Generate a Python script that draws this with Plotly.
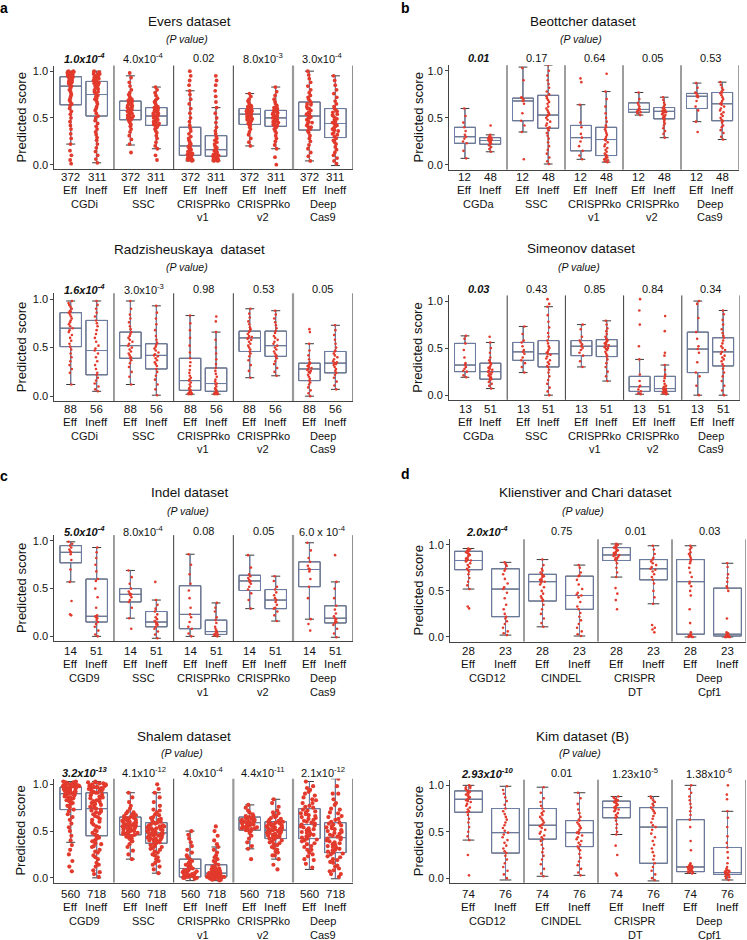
import plotly.graph_objects as go

W, H = 747, 940
RED = '#e23a2c'
BOXC = '#6f80a8'
CAPC = '#3a3a3a'
AXC = '#444444'
TXT = '#111111'
FONT = 'Liberation Sans, Arial, Helvetica, sans-serif'

# ---------------- Evers dataset (a) ----------------
evers_tools = ["CGDi", "SSC", "CRISPRko<br>v1", "CRISPRko<br>v2", "Deep<br>Cas9"]
evers_n = [372, 311]
evers_p = ["<b><i>1.0x10<sup>-4</sup></i></b>", "4.0x10<sup>-4</sup>", "0.02", "8.0x10<sup>-3</sup>", "3.0x10<sup>-4</sup>"]
evers_lo = [.22, .02, .21, .17, .04, .04, .20, .17, .04, -.01]
evers_q1 = [.64, .52, .48, .42, .10, .09, .43, .41, .37, .29]
evers_med = [.84, .75, .58, .52, .20, .16, .54, .50, .52, .44]
evers_q3 = [.94, .89, .68, .61, .40, .31, .60, .58, .67, .60]
evers_hi = [1.0, 1.0, .95, .83, .79, .61, .76, .83, 1.0, .95]
evers_pts = [
    [1.0, .99, .99, .98, .98, .97, .97, .96, .96, .95, .95, .94, .93, .93, .92, .91, .9, .9, .89, .88, .87, .86, .85, .84, .83, .82, .8, .79, .77, .75, .73, .71, .69, .67, .65, .63, .6, .57, .54, .5, .46, .42, .38, .33, .28, .22, .15, .1, .05, .01, 1.0, .99, .98, .97, .96, .95, .94, .92],
    [1.0, .99, .98, .97, .96, .95, .94, .93, .92, .91, .9, .89, .88, .87, .86, .85, .83, .82, .8, .78, .77, .75, .73, .71, .69, .67, .65, .62, .6, .58, .55, .52, .5, .47, .44, .41, .38, .35, .32, .29, .26, .22, .18, .14, .1, .06, .02, .99, .97, .95, .93, .9, .87, .84, .81, .78, .74, .7],
    [.98, .93, .88, .84, .8, .77, .75, .73, .71, .7, .69, .68, .67, .66, .65, .64, .63, .62, .61, .6, .59, .58, .58, .57, .56, .55, .54, .53, .52, .51, .5, .49, .48, .47, .45, .43, .41, .38, .35, .31, .27, .22, .13, .66, .63, .6, .57, .55, .52, .5],
    [.83, .8, .77, .74, .71, .69, .67, .65, .63, .62, .61, .6, .59, .58, .57, .56, .55, .54, .53, .52, .52, .51, .5, .49, .48, .47, .46, .45, .44, .43, .42, .41, .4, .38, .36, .34, .31, .28, .24, .2, .17, .1, .05, .58, .55, .53, .5, .48, .46, .44],
    [1.0, .95, .9, .85, .79, .75, .7, .65, .6, .55, .5, .46, .42, .39, .36, .33, .3, .28, .26, .24, .22, .21, .2, .19, .18, .17, .16, .15, .14, .13, .12, .11, .1, .09, .08, .07, .07, .06, .06, .05, .05, .04, .15, .12, .1, .08, .06],
    [.95, .9, .85, .79, .73, .67, .61, .55, .5, .45, .4, .36, .33, .3, .28, .26, .24, .22, .2, .19, .18, .17, .16, .15, .14, .13, .12, .11, .1, .1, .09, .09, .08, .08, .07, .07, .06, .06, .05, .05, .04, .04, .14, .11, .09, .07, .05],
    [.76, .73, .7, .68, .66, .64, .63, .62, .61, .6, .6, .59, .58, .58, .57, .56, .56, .55, .54, .54, .53, .52, .52, .51, .5, .49, .48, .47, .46, .45, .44, .43, .42, .4, .38, .35, .32, .28, .24, .2, .62, .59, .57, .55, .53, .51, .49],
    [.83, .78, .74, .7, .67, .65, .63, .61, .6, .59, .58, .57, .56, .55, .54, .53, .52, .51, .5, .5, .49, .48, .47, .46, .45, .44, .43, .42, .41, .4, .38, .36, .34, .31, .28, .25, .21, .17, .08, 0.0, .6, .57, .55, .52, .5, .47, .45],
    [1.0, .96, .92, .88, .84, .8, .77, .74, .72, .7, .68, .66, .64, .62, .6, .58, .56, .54, .53, .52, .51, .5, .48, .46, .44, .42, .4, .38, .36, .34, .31, .28, .25, .21, .17, .13, .09, .04, .65, .6, .55, .5, .45, .4],
    [.95, .9, .85, .8, .76, .72, .68, .65, .62, .6, .58, .56, .54, .52, .5, .48, .46, .44, .43, .42, .4, .38, .36, .34, .32, .3, .28, .26, .24, .22, .19, .16, .13, .1, .07, .04, .01, .57, .53, .49, .45, .41, .37, .33],
]

# ---------------- Beottcher dataset (b) ----------------
beot_tools = ["CGDa", "SSC", "CRISPRko<br>v1", "CRISPRko<br>v2", "Deep<br>Cas9"]
beot_n = [12, 48]
beot_p = ["<b><i>0.01</i></b>", "0.17", "0.64", "0.05", "0.53"]
beot_lo = [.07, .14, .35, .01, .06, .03, .53, .29, .46, .27]
beot_q1 = [.23, .22, .47, .39, .15, .10, .56, .49, .60, .47]
beot_med = [.30, .26, .68, .53, .29, .27, .59, .57, .73, .65]
beot_q3 = [.40, .29, .71, .74, .42, .40, .66, .61, .76, .77]
beot_hi = [.60, .32, 1.04, 1.06, .64, .78, .77, .72, .87, .88]
beot_pts = [
    [.60, .52, .45, .40, .36, .32, .30, .28, .25, .23, .15, .07],
    [.42, .32, .31, .3, .29, .29, .28, .28, .27, .27, .26, .26, .25, .25, .24, .23, .22, .21, .19, .17, .14],
    [1.03, .9, .72, .71, .69, .68, .65, .55, .47, .42, .35, .06],
    [1.06, 1.0, .95, .9, .86, .82, .78, .75, .73, .71, .69, .67, .65, .62, .6, .58, .56, .54, .53, .52, .5, .48, .46, .44, .42, .4, .39, .37, .34, .31, .28, .24, .2, .16, .12, .08, .04, .01],
    [.92, .88, .64, .45, .4, .33, .29, .25, .2, .15, .1, .06],
    [.97, .78, .7, .62, .55, .5, .46, .42, .4, .38, .36, .34, .32, .3, .28, .27, .26, .24, .22, .2, .18, .16, .14, .12, .11, .1, .09, .08, .07, .06, .05, .04, .03],
    [.77, .7, .66, .64, .62, .6, .59, .58, .57, .56, .55, .53],
    [.72, .69, .66, .64, .62, .61, .6, .6, .59, .58, .58, .57, .57, .56, .56, .55, .54, .53, .52, .51, .5, .49, .48, .46, .44, .42, .39, .36, .33, .29],
    [.87, .82, .77, .76, .74, .73, .72, .68, .62, .58, .46, .35],
    [.88, .85, .82, .8, .78, .77, .76, .74, .72, .7, .68, .66, .65, .64, .62, .6, .58, .56, .54, .52, .5, .48, .47, .45, .42, .4, .37, .34, .3, .27],
]

# ---------------- Radzisheuskaya dataset ----------------
radz_tools = ["CGDi", "SSC", "CRISPRko<br>v1", "CRISPRko<br>v2", "Deep<br>Cas9"]
radz_n = [88, 56]
radz_p = ["<b><i>1.6x10<sup>-4</sup></i></b>", "3.0x10<sup>-3</sup>", "0.98", "0.53", "0.05"]
radz_lo = [.12, .05, .12, .01, .02, .02, .19, .21, 0.0, .07]
radz_q1 = [.51, .22, .39, .28, .06, .05, .46, .41, .16, .24]
radz_med = [.70, .47, .52, .42, .16, .13, .60, .52, .28, .34]
radz_q3 = [.86, .78, .66, .54, .39, .29, .67, .67, .34, .46]
radz_hi = [.98, .98, .98, .93, .83, .66, .90, .88, .54, .73]
radz_pts = [
    [.98, .96, .94, .92, .9, .88, .87, .86, .84, .82, .8, .78, .76, .74, .72, .7, .68, .66, .63, .6, .57, .54, .51, .48, .44, .4, .36, .32, .28, .24, .12],
    [.98, .94, .9, .86, .82, .78, .75, .72, .68, .64, .6, .56, .52, .49, .47, .44, .4, .36, .32, .28, .24, .22, .19, .16, .13, .1, .07, .05],
    [.98, .9, .84, .8, .76, .72, .69, .66, .64, .62, .6, .58, .56, .54, .52, .5, .48, .46, .44, .42, .4, .39, .37, .34, .3, .25, .2, .12],
    [.93, .86, .8, .74, .68, .62, .58, .55, .53, .51, .49, .47, .45, .43, .42, .41, .39, .37, .35, .33, .31, .28, .25, .21, .17, .12, .07, .01],
    [.83, .75, .68, .6, .52, .45, .39, .35, .31, .27, .24, .21, .19, .17, .16, .14, .12, .1, .08, .07, .06, .05, .04, .04, .03, .03, .02, .02],
    [.82, .77, .66, .58, .5, .44, .38, .33, .29, .26, .23, .2, .17, .15, .13, .12, .1, .08, .07, .06, .05, .04, .04, .03, .03, .02, .02],
    [.9, .85, .81, .77, .74, .71, .69, .67, .66, .64, .62, .61, .6, .59, .58, .56, .54, .52, .5, .48, .46, .44, .41, .37, .32, .26, .19],
    [.88, .84, .8, .76, .73, .7, .67, .65, .62, .6, .58, .56, .54, .52, .5, .48, .46, .44, .42, .41, .39, .36, .33, .29, .25, .21],
    [.69, .66, .54, .47, .42, .38, .35, .34, .33, .32, .31, .3, .29, .28, .27, .26, .25, .24, .22, .2, .18, .16, .14, .12, .09, .06, .03, 0.0],
    [.73, .68, .63, .58, .54, .5, .47, .46, .44, .42, .4, .38, .36, .35, .34, .33, .32, .3, .28, .26, .24, .22, .19, .15, .11, .07],
]

# ---------------- Simeonov dataset ----------------
sime_tools = ["CGDa", "SSC", "CRISPRko<br>v1", "CRISPRko<br>v2", "Deep<br>Cas9"]
sime_n = [13, 51]
sime_p = ["<b><i>0.03</i></b>", "0.43", "0.85", "0.84", "0.34"]
sime_lo = [.19, .07, .24, 0.0, .30, .15, .01, .01, 0.0, 0.0]
sime_q1 = [.25, .17, .37, .30, .42, .41, .04, .04, .24, .31]
sime_med = [.32, .25, .46, .44, .52, .52, .09, .07, .49, .46]
sime_q3 = [.55, .34, .56, .58, .58, .59, .20, .20, .67, .61]
sime_hi = [.63, .56, .73, .94, .75, .79, .38, .32, 1.0, .90]
sime_pts = [
    [.63, .6, .55, .48, .4, .34, .32, .3, .28, .26, .25, .21, .19],
    [.62, .56, .5, .45, .4, .37, .35, .34, .33, .31, .3, .29, .28, .27, .26, .25, .24, .23, .22, .21, .2, .19, .18, .17, .16, .14, .12, .1, .07],
    [.73, .65, .58, .56, .52, .48, .46, .44, .4, .37, .34, .3, .24],
    [1.02, .97, .94, .85, .78, .72, .66, .62, .58, .55, .52, .5, .48, .46, .45, .44, .43, .41, .39, .37, .35, .33, .31, .3, .27, .24, .2, .16, .12, .08, .04, 0.0],
    [.75, .7, .62, .58, .56, .54, .52, .5, .48, .45, .42, .36, .3],
    [.79, .75, .71, .68, .65, .62, .6, .59, .58, .57, .56, .55, .54, .53, .52, .51, .5, .49, .48, .46, .44, .42, .41, .38, .34, .3, .25, .2, .15],
    [1.02, .9, .75, .52, .38, .22, .15, .1, .09, .06, .04, .02, .01],
    [.84, .68, .45, .42, .32, .27, .22, .2, .18, .15, .12, .1, .09, .08, .07, .07, .06, .06, .05, .05, .04, .04, .03, .03, .02, .02, .01],
    [1.0, .97, .82, .67, .6, .52, .49, .45, .35, .24, .2, .1, 0.0],
    [.9, .86, .8, .75, .7, .66, .63, .61, .58, .55, .52, .5, .48, .46, .44, .42, .4, .38, .36, .33, .31, .28, .24, .2, .15, .1, .05, 0.0],
]

# ---------------- Indel dataset (c) ----------------
indel_tools = ["CGD9", "SSC", "CRISPRko<br>v1", "CRISPRko<br>v2", "Deep<br>Cas9"]
indel_n = [14, 51]
indel_p = ["<b><i>5.0x10<sup>-4</sup></i></b>", "8.0x10<sup>-4</sup>", "0.08", "0.05", "6.0 x 10<sup>-4</sup>"]
indel_lo = [.57, 0.0, .19, -.02, 0.0, 0.0, .29, .16, .18, -.01]
indel_q1 = [.77, .15, .36, .10, .08, .02, .48, .29, .52, .14]
indel_med = [.88, .21, .44, .15, .23, .05, .58, .38, .70, .19]
indel_q3 = [.95, .60, .50, .26, .53, .17, .64, .49, .78, .32]
indel_hi = [.99, .93, .69, .38, .86, .35, .85, .63, .98, .57]
indel_pts = [
    [.99, .97, .95, .93, .91, .89, .88, .86, .8, .7, .57, .37, .23, .22],
    [.93, .88, .82, .75, .68, .6, .58, .5, .41, .3, .22, .21, .2, .19, .17, .15, .13, .1, .06, .02, 0.0],
    [.69, .62, .55, .5, .47, .45, .44, .43, .41, .38, .36, .3, .19, .08],
    [.57, .38, .33, .29, .26, .23, .2, .18, .16, .15, .14, .13, .12, .1, .08, .05, .02, -.02],
    [.86, .75, .65, .55, .48, .4, .3, .23, .2, .15, .1, .08, .03, 0.0],
    [.35, .3, .26, .2, .17, .14, .1, .08, .06, .05, .04, .03, .02, .02, .01, 0.0],
    [.85, .72, .65, .63, .61, .59, .58, .57, .55, .52, .49, .45, .38, .29],
    [.63, .58, .52, .49, .46, .43, .4, .38, .36, .33, .3, .29, .26, .22, .16],
    [.98, .9, .82, .78, .74, .71, .7, .68, .6, .52, .4, .18, .13, .06],
    [.85, .57, .5, .4, .32, .28, .24, .21, .19, .18, .16, .15, .14, .12, .08, .03, -.01],
]

# ---------------- Klienstiver and Chari dataset (d) ----------------
klein_tools = ["CGD12", "CINDEL", "CRISPR<br>DT", "Deep<br>Cpf1"]
klein_n = [28, 23]
klein_p = ["<b><i>2.0x10<sup>-4</sup></i></b>", "0.75", "0.01", "0.03"]
klein_lo = [.52, .02, .11, .01, .65, .36, 0.0, 0.0]
klein_q1 = [.73, .22, .39, .30, .83, .62, .03, .01]
klein_med = [.83, .52, .60, .45, .89, .74, .60, .03]
klein_q3 = [.93, .74, .68, .66, .97, .84, .84, .53]
klein_hi = [.96, .81, .84, .78, 1.01, .99, .99, .80]
klein_pts = [
    [.96, .95, .94, .93, .92, .91, .9, .89, .88, .86, .85, .84, .83, .83, .82, .8, .78, .76, .74, .73, .71, .68, .64, .6, .56, .52, .33, .31],
    [.81, .79, .77, .74, .72, .68, .63, .58, .54, .52, .48, .42, .35, .3, .25, .22, .2, .17, .14, .1, .06, .04, .02],
    [.84, .78, .74, .72, .7, .68, .67, .66, .65, .63, .62, .61, .6, .59, .57, .54, .5, .47, .44, .42, .4, .39, .35, .3, .25, .2, .15, .11],
    [.78, .75, .7, .67, .66, .62, .57, .52, .48, .46, .45, .43, .38, .33, .3, .26, .22, .18, .14, .1, .06, .03, .01],
    [1.01, 1.0, .99, .98, .97, .96, .95, .94, .93, .92, .91, .9, .89, .89, .88, .87, .86, .85, .84, .83, .8, .75, .7, .65, .53, .47, .4, .3],
    [.99, .95, .9, .86, .84, .82, .8, .78, .76, .74, .73, .71, .68, .65, .62, .58, .5, .43, .36, .13, .1, .08, .05],
    [.99, .97, .95, .92, .9, .88, .86, .84, .82, .8, .75, .7, .65, .6, .58, .55, .5, .45, .3, .15, .05, .03, .02, .01, .01, 0.0, 0.0, 0.0],
    [.8, .76, .68, .64, .6, .55, .53, .5, .2, .05, .04, .03, .03, .02, .02, .01, .01, .01, 0.0, 0.0, 0.0, 0.0, 0.0],
]

# ---------------- Shalem dataset ----------------
shalem_tools = ["CGD9", "SSC", "CRISPRko<br>v1", "CRISPRko<br>v2", "Deep<br>Cas9"]
shalem_n = [560, 718]
shalem_p = ["<b><i>3.2x10<sup>-13</sup></i></b>", "4.1x10<sup>-12</sup>", "4.0x10<sup>-4</sup>", "4.4x10<sup>-11</sup>", "2.1x10<sup>-12</sup>"]
shalem_lo = [.38, 0.0, .20, .05, -.03, -.03, .31, .20, .09, -.01]
shalem_q1 = [.73, .45, .46, .37, .01, .01, .51, .42, .42, .27]
shalem_med = [.90, .74, .55, .48, .10, .05, .59, .51, .57, .43]
shalem_q3 = [.97, .91, .65, .59, .20, .14, .65, .60, .74, .59]
shalem_hi = [1.03, 1.03, .91, .91, .50, .33, .78, .84, 1.03, 1.06]
shalem_pts = [
    [1.03, 1.02, 1.01, 1.0, .99, .98, .97, .96, .96, .95, .94, .93, .92, .92, .91, .9, .9, .89, .88, .87, .86, .85, .84, .83, .82, .8, .79, .77, .75, .73, .71, .68, .65, .62, .58, .54, .5, .45, .4, .35, .3, .25, .18, .12, .07,
     1.03, 1.02, 1.01, 1.0, 1.0, .99, .99, .98, .98, .97, .97, .96, .95, .94, .93, .91, .89, .87, .85, .81, .77],
    [1.03, 1.02, 1.01, 1.0, .99, .98, .97, .96, .95, .94, .93, .92, .91, .9, .88, .86, .84, .82, .8, .78, .76, .74, .72, .7, .68, .65, .62, .6, .57, .54, .51, .48, .45, .42, .39, .36, .33, .3, .27, .24, .2, .16, .12, .08, .04, .01,
     1.02, 1.01, 1.0, .99, .98, .97, .96, .95, .93, .91, .89, .87, .85, .83, .81, .79, .77, .75, .73, .71, .69, .66, .63, .59, .55, .5, .46, .43, .4, .37, .34, .28, .22, .14, .06],
    [.91, .86, .81, .77, .74, .71, .69, .67, .66, .65, .64, .63, .62, .61, .6, .59, .58, .57, .56, .55, .55, .54, .53, .52, .51, .5, .49, .48, .47, .46, .45, .43, .41, .39, .36, .33, .29, .25, .2,
     .7, .68, .66, .64, .63, .62, .61, .6, .59, .58, .57, .56, .55, .54, .53, .52, .51, .5, .49, .48, .47, .46, .44, .42],
    [1.0, .95, .91, .86, .81, .77, .73, .7, .67, .64, .62, .6, .59, .57, .56, .55, .54, .53, .52, .51, .5, .49, .48, .47, .46, .45, .44, .43, .42, .41, .4, .39, .37, .35, .33, .31, .28, .25, .22, .18, .14, .09, .05,
     .72, .68, .65, .63, .61, .59, .58, .56, .55, .54, .53, .52, .51, .5, .49, .48, .47, .46, .45, .44, .43, .42, .41, .4, .39, .38, .36, .34, .32, .3, .27, .24, .2, .16, .12],
    [.5, .46, .42, .38, .34, .3, .27, .24, .22, .2, .18, .16, .14, .12, .1, .09, .08, .07, .06, .05, .04, .03, .02, .01, 0.0, 0.0, -.01,
     .15, .12, .1, .08, .06, .04, .03, .02, .01, 0.0],
    [.55, .5, .45, .4, .36, .33, .3, .27, .24, .22, .2, .18, .16, .14, .12, .11, .1, .09, .08, .07, .06, .06, .05, .05, .04, .04, .03, .03, .02, .02, .02, .01, .01, .01, 0.0, 0.0, 0.0, -.01, -.01,
     .12, .1, .08, .07, .06, .05, .04, .04, .03, .03, .02, .02, .01, .01, 0.0, 0.0, -.01, -.02, -.02, -.03],
    [.78, .75, .72, .7, .68, .66, .65, .64, .63, .62, .61, .6, .6, .59, .58, .57, .56, .55, .54, .53, .52, .51, .5, .48, .45, .42, .38, .34, .31, .2,
     .66, .64, .63, .62, .61, .6, .59, .58, .57, .56, .55, .54, .53, .52, .51],
    [.84, .8, .76, .72, .69, .67, .65, .63, .61, .6, .59, .58, .57, .56, .55, .54, .53, .52, .51, .5, .49, .48, .47, .46, .45, .44, .43, .42, .4, .38, .36, .33, .3, .27, .24, .2, .14, .09,
     .7, .66, .64, .62, .6, .59, .58, .57, .56, .55, .54, .53, .52, .51, .5, .49, .48, .47, .46, .45, .44, .43, .41, .39, .37, .35, .32, .28, .24],
    [1.03, .98, .94, .9, .86, .83, .8, .77, .75, .73, .71, .69, .67, .65, .63, .61, .59, .57, .55, .53, .51, .49, .47, .45, .43, .41, .39, .36, .33, .3, .27, .23, .19, .15, .11,
     .96, .92, .88, .84, .8, .76, .72, .7, .68, .66, .64, .62, .6, .58, .56, .54, .52, .5, .48, .46, .44, .42, .4, .37, .34, .3, .25, .2],
    [1.06, .98, .9, .84, .78, .73, .69, .65, .62, .59, .57, .55, .53, .51, .49, .47, .45, .43, .41, .39, .37, .35, .33, .31, .29, .27, .25, .22, .19, .16, .13, .1, .07, .04, .01,
     .9, .8, .74, .7, .66, .63, .6, .58, .56, .54, .52, .5, .48, .46, .44, .42, .4, .38, .36, .34, .32, .3, .28, .26, .23, .2, .17, .12, .08, .04],
]

# ---------------- Kim dataset (B) ----------------
kim_tools = ["CGD12", "CINDEL", "CRISPR<br>DT", "Deep<br>Cpf1"]
kim_n = [74, 76]
kim_p = ["<b><i>2.93x10<sup>-10</sup></i></b>", "0.01", "1.23x10<sup>-5</sup>", "1.38x10<sup>-6</sup>"]
kim_lo = [.41, -.02, .02, .03, .47, -.03, .05, -.02]
kim_q1 = [.71, .27, .42, .34, .65, .16, .07, .04]
kim_med = [.85, .49, .57, .49, .76, .55, .12, .06]
kim_q3 = [.94, .75, .75, .62, .83, .76, .63, .33]
kim_hi = [1.0, .99, .98, .92, .88, .88, 1.0, .72]
kim_pts = [
    [1.0, .99, .98, .97, .96, .95, .94, .93, .92, .91, .9, .89, .88, .87, .86, .85, .84, .83, .82, .8, .78, .76, .74, .72, .71, .68, .64, .6, .55, .5, .45, .41, .25, .03],
    [.99, .95, .91, .87, .83, .79, .75, .72, .69, .66, .63, .6, .57, .54, .51, .49, .47, .44, .41, .38, .35, .32, .29, .27, .24, .2, .16, .12, .08, .04, 0.0],
    [.98, .92, .86, .82, .78, .75, .72, .7, .68, .66, .64, .62, .6, .58, .57, .56, .54, .52, .5, .48, .46, .44, .42, .4, .36, .32, .28, .24, .2, .15, .1, .05, .02],
    [.92, .86, .8, .74, .7, .66, .63, .62, .6, .58, .56, .54, .52, .5, .49, .48, .46, .44, .42, .4, .38, .36, .34, .32, .3, .26, .22, .18, .14, .1, .06, .03],
    [.88, .87, .86, .85, .84, .84, .83, .82, .81, .8, .79, .78, .77, .76, .75, .74, .73, .72, .7, .68, .66, .65, .62, .58, .54, .5, .47, .35, .25, .05, .03],
    [.88, .86, .84, .82, .8, .78, .76, .74, .72, .7, .67, .64, .6, .57, .55, .52, .48, .44, .4, .36, .32, .28, .24, .2, .16, .12, .08, .04, 0.0, -.02],
    [1.0, .96, .92, .88, .84, .8, .76, .72, .68, .63, .55, .4, .3, .16, .15, .14, .13, .13, .12, .12, .11, .11, .1, .1, .09, .09, .08, .08, .07, .07, .06, .06, .05],
    [1.0, .9, .85, .72, .65, .55, .45, .38, .33, .28, .22, .16, .12, .1, .09, .08, .08, .07, .07, .06, .06, .05, .05, .04, .04, .03, .03, .02, .01, 0.0, -.02],
]

# -------- panel assembly (data + page geometry in px) --------
panels = [
    dict(letter='a', title='Evers dataset', tools=evers_tools, n=evers_n, p=evers_p, lo=evers_lo, q1=evers_q1, med=evers_med, q3=evers_q3, hi=evers_hi, pts=evers_pts,
         x0=54.3, x1=352.7, y1=70.3, y0=164.0, tx=189, ty=21, sy=38, py=57, lab=176, lx=4, ly=7, ytx=21, thick=[4]),
    dict(letter='b', title='Beottcher dataset', tools=beot_tools, n=beot_n, p=beot_p, lo=beot_lo, q1=beot_q1, med=beot_med, q3=beot_q3, hi=beot_hi, pts=beot_pts,
         x0=449, x1=739, y1=70.0, y0=164.3, tx=583, ty=21, sy=38, py=57, lab=176, lx=405, ly=7, ytx=418, thick=[]),
    dict(letter='', title='Radzisheuskaya  dataset', tools=radz_tools, n=radz_n, p=radz_p, lo=radz_lo, q1=radz_q1, med=radz_med, q3=radz_q3, hi=radz_hi, pts=radz_pts,
         x0=54.3, x1=352.7, y1=298.7, y0=396.0, tx=189, ty=249, sy=267, py=289, lab=408.5, lx=0, ly=0, ytx=21, thick=[4]),
    dict(letter='', title='Simeonov dataset', tools=sime_tools, n=sime_n, p=sime_p, lo=sime_lo, q1=sime_q1, med=sime_med, q3=sime_q3, hi=sime_hi, pts=sime_pts,
         x0=449, x1=740, y1=300.7, y0=395.0, tx=581, ty=248, sy=267, py=289, lab=408.5, lx=0, ly=0, ytx=418, thick=[]),
    dict(letter='c', title='Indel dataset', tools=indel_tools, n=indel_n, p=indel_p, lo=indel_lo, q1=indel_q1, med=indel_med, q3=indel_q3, hi=indel_hi, pts=indel_pts,
         x0=54.3, x1=352.7, y1=541.0, y0=636.7, tx=190, ty=493, sy=511, py=531, lab=651.5, lx=4, ly=476, ytx=21, thick=[4]),
    dict(letter='d', title='Klienstiver and Chari dataset', tools=klein_tools, n=klein_n, p=klein_p, lo=klein_lo, q1=klein_q1, med=klein_med, q3=klein_q3, hi=klein_hi, pts=klein_pts,
         x0=450, x1=746, y1=545.0, y0=637.3, tx=585, ty=493, sy=511, py=531, lab=651.5, lx=405, ly=474, ytx=418, thick=[]),
    dict(letter='', title='Shalem dataset', tools=shalem_tools, n=shalem_n, p=shalem_p, lo=shalem_lo, q1=shalem_q1, med=shalem_med, q3=shalem_q3, hi=shalem_hi, pts=shalem_pts,
         x0=54.3, x1=352.7, y1=785.0, y0=878.7, tx=184, ty=737, sy=754, py=773, lab=895, lx=0, ly=0, ytx=21, thick=[3, 4]),
    dict(letter='', title='Kim dataset (B)', tools=kim_tools, n=kim_n, p=kim_p, lo=kim_lo, q1=kim_q1, med=kim_med, q3=kim_q3, hi=kim_hi, pts=kim_pts,
         x0=450, x1=746, y1=786.0, y0=879.0, tx=582, ty=737, sy=754, py=774, lab=895, lx=0, ly=0, ytx=418, thick=[]),
]

YMIN, YMAX = -0.05, 1.06


def px(x):
    return x / W


def py_(y):
    return 1 - y / H


fig = go.Figure()
annotations = []
shapes = []
layout_axes = {}


def txt(text, xref, x, ypx, size, **kw):
    d = dict(text=text, xref=xref, yref='paper', x=x, y=py_(ypx), xanchor='center', yanchor='middle',
             showarrow=False, font=dict(size=size, color=TXT, family=FONT))
    d.update(kw)
    annotations.append(d)


for k, P in enumerate(panels, start=1):
    nt = len(P['tools'])
    if nt == 5:
        eff_off, ineff_off, bw = 0.55, 1.42, 0.72
    else:
        eff_off, ineff_off, bw = 0.5, 1.5, 0.75
    positions = []
    for i in range(nt):
        positions += [2 * i + eff_off, 2 * i + ineff_off]
    ppu = P['y0'] - P['y1']
    top = P['y1'] - (YMAX - 1) * ppu
    bottom = P['y0'] - YMIN * ppu
    xa = 'x' if k == 1 else f'x{k}'
    ya = 'y' if k == 1 else f'y{k}'
    xkey = 'xaxis' if k == 1 else f'xaxis{k}'
    ykey = 'yaxis' if k == 1 else f'yaxis{k}'
    layout_axes[xkey] = dict(domain=[px(P['x0']), px(P['x1'])], range=[0, 2 * nt], anchor=ya,
                             showgrid=False, zeroline=False, showline=True, linecolor=AXC, linewidth=1,
                             showticklabels=False, ticks='', fixedrange=True)
    layout_axes[ykey] = dict(domain=[py_(bottom), py_(top)], range=[YMIN, YMAX], anchor=xa,
                             showgrid=False, zeroline=False, showline=True, linecolor=AXC, linewidth=1,
                             tickmode='array', tickvals=[0, 0.5, 1.0], ticktext=['0.0', '0.5', '1.0'],
                             ticks='outside', ticklen=3, tickcolor=AXC,
                             tickfont=dict(size=11, color=TXT, family=FONT), fixedrange=True)

    # box: dark caps layer, then blue box layer
    stats = dict(x=positions, q1=P['q1'], median=P['med'], q3=P['q3'],
                 lowerfence=P['lo'], upperfence=P['hi'])
    fig.add_trace(go.Box(**stats, width=bw, fillcolor='rgba(0,0,0,0)', boxpoints=False,
                         line=dict(color=CAPC, width=1), whiskerwidth=0.42,
                         xaxis=xa, yaxis=ya, showlegend=False, hoverinfo='skip'))
    fig.add_trace(go.Box(**stats, width=bw, fillcolor='rgba(0,0,0,0)', boxpoints=False,
                         line=dict(color=BOXC, width=1), whiskerwidth=0,
                         xaxis=xa, yaxis=ya, showlegend=False, hoverinfo='skip'))
    # points
    for j, vals in enumerate(P['pts']):
        ncount = P['n'][j % 2]
        if ncount <= 100:
            jit, ms = 0.22, 2.6
        elif ncount <= 500:
            jit, ms = 0.32, 3.8
        else:
            jit, ms = 0.85, 4.2
        fig.add_trace(go.Box(x=[positions[j]] * len(vals), y=vals, width=bw,
                             boxpoints='all', jitter=jit, pointpos=0,
                             fillcolor='rgba(0,0,0,0)', line=dict(color='rgba(0,0,0,0)', width=0),
                             whiskerwidth=0, marker=dict(color=RED, size=ms, line=dict(width=0)),
                             xaxis=xa, yaxis=ya, showlegend=False, hoverinfo='y'))

    # separators
    for i in range(1, nt + 1):
        thick = i in P['thick']
        shapes.append(dict(type='line', xref=xa, yref=f'{ya} domain', x0=2 * i, x1=2 * i, y0=0, y1=1,
                           line=dict(color='#9a9a9a' if thick else '#3c3c3c', width=2.2 if thick else 1)))

    # group labels (count / Eff-Ineff), tool names, P values
    for j, pos in enumerate(positions):
        txt(str(P['n'][j % 2]), xa, pos, P['lab'], 11.5)
        txt('Eff' if j % 2 == 0 else 'Ineff', xa, pos, P['lab'] + 13.3, 11.5)
    for i, t in enumerate(P['tools']):
        for li, line in enumerate(t.split('<br>')):
            txt(line, xa, 2 * i + 1, P['lab'] + 27 + 13.5 * li, 11)
        txt(P['p'][i], xa, 2 * i + 1, P['py'], 11)
    # titles
    txt(P['title'], 'paper', px(P['tx']), P['ty'], 13.5)
    txt('<i>(P value)</i>', 'paper', px(P['tx'] - 2), P['sy'], 10.5)
    txt('Predicted score', 'paper', px(P['ytx']), (top + bottom) / 2, 13, textangle=-90)
    if P['letter']:
        annotations.append(dict(text=f"<b>{P['letter']}</b>", xref='paper', yref='paper', x=px(P['lx']),
                                y=py_(P['ly']), xanchor='center', yanchor='middle', showarrow=False,
                                font=dict(size=14, color='#000', family=FONT)))

fig.update_layout(width=W, height=H, margin=dict(l=0, r=0, t=0, b=0, pad=0),
                  paper_bgcolor='white', plot_bgcolor='white', boxmode='overlay',
                  font=dict(family=FONT, color=TXT), showlegend=False,
                  annotations=annotations, shapes=shapes, **layout_axes)

fig.write_html("out.html", config={'displayModeBar': False},
               post_script="document.body.style.margin='0';")
